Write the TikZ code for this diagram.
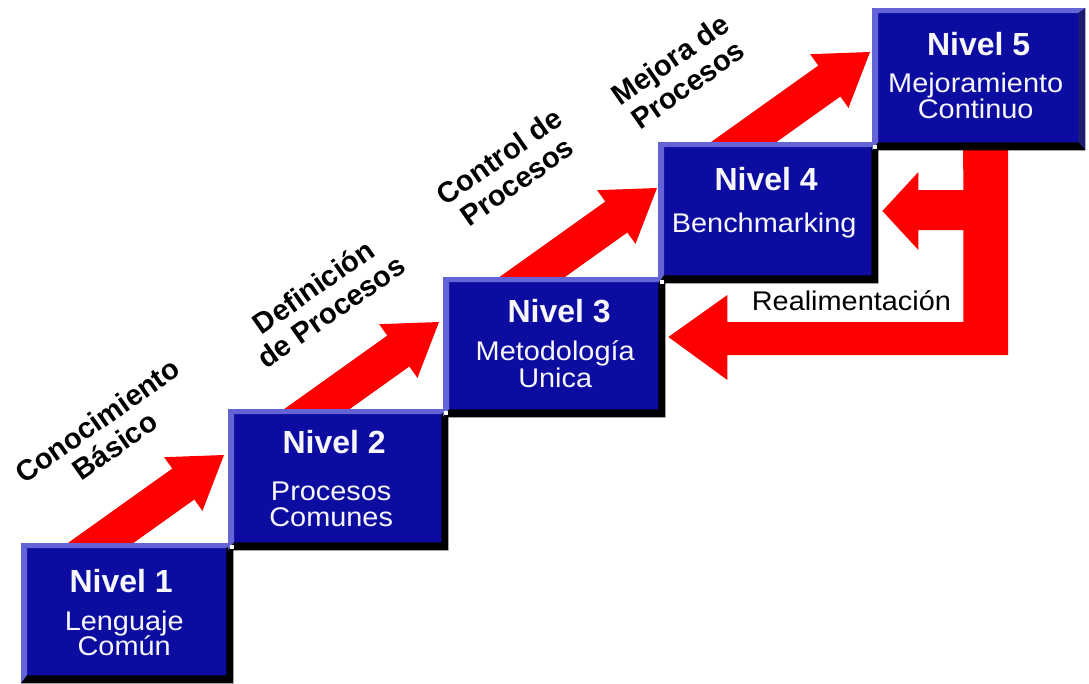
\documentclass[tikz,border=0pt]{standalone}
\usepackage{fontspec}
\setmainfont{Liberation Sans}
\newfontfamily\subfont[FakeStretch=1.07]{Liberation Sans}
\usetikzlibrary{calc}
\pgfdeclarelayer{background}
\pgfsetlayers{background,main}
\definecolor{boxblue}{RGB}{12,12,160}
\definecolor{bevellight}{RGB}{100,100,215}
\definecolor{beveldark}{RGB}{28,28,110}
\definecolor{arrowred}{RGB}{255,0,0}
\definecolor{txtwhite}{RGB}{246,246,252}
\tikzset{
  lvl/.style={draw=none, fill=boxblue, anchor=north west, inner sep=0pt},
  titletext/.style={anchor=base, text=txtwhite, inner sep=0pt,
    font=\fontsize{32}{32}\selectfont\bfseries},
  subtext/.style={anchor=base, text=txtwhite, inner sep=0pt,
    font=\subfont\fontsize{27}{27}\selectfont},
  steplabel/.style={rotate=35, align=center, inner sep=0pt,
    font=\fontsize{29}{30.5}\selectfont\bfseries},
  fbtext/.style={anchor=base, text=black, inner sep=0pt,
    font=\subfont\fontsize{27}{27}\selectfont},
  blockarrow/.style={fill=arrowred, draw=none},
  dotmark/.style={fill=white, draw=none}
}
\newcommand\bevels[2]{%
  \fill[bevellight] (#1.north west) -- (#1.north east) -- ($(#1.north east)+(-7,5)$) -- ($(#1.north west)+(6,5)$) -- cycle;
  \fill[bevellight] (#1.north west) -- ($(#1.north west)+(6,5)$) -- ($(#1.south west)+(6,-8)$) -- (#1.south west) -- cycle;
  \fill[#2] (#1.north east) -- (#1.south east) -- ($(#1.south east)+(-7,-8)$) -- ($(#1.north east)+(-7,5)$) -- cycle;
  \fill[black] (#1.south west) -- ($(#1.south west)+(6,-8)$) -- ($(#1.south east)+(-7,-8)$) -- (#1.south east) -- cycle;
}
\newcommand\diagarrow[1]{%
  \fill[blockarrow, shift={(#1)}, rotate=35.5] (0,0) -- (-50,-33) -- (-50,-19) -- (-190,-19) -- (-190,19) -- (-50,19) -- (-50,33) -- cycle;
}
\begin{document}
\begin{tikzpicture}[x=1pt,y=-1pt]
\useasboundingbox (0,0) rectangle (1089,683);

% boxes
\node[lvl, minimum width=212pt, minimum height=140pt] (n1) at (21,543) {};
\bevels{n1}{black}
\node[lvl, minimum width=220pt, minimum height=141pt] (n2) at (228,409) {};
\bevels{n2}{black}
\node[lvl, minimum width=222pt, minimum height=140pt] (n3) at (443,277) {};
\bevels{n3}{black}
\node[lvl, minimum width=220pt, minimum height=141pt] (n4) at (658,142) {};
\bevels{n4}{black}
\node[lvl, minimum width=213pt, minimum height=142pt] (n5) at (872,8) {};
\bevels{n5}{beveldark}

% corner dots
\fill[dotmark] ($(n2.south west)+(2,-5)$) rectangle ++(4,4);
\fill[dotmark] ($(n3.south west)+(1,-6)$) rectangle ++(4,4);
\fill[dotmark] ($(n4.south west)+(2,-3)$) rectangle ++(4,4);
\fill[dotmark] ($(n5.south west)+(1,-5)$) rectangle ++(4,4);

% texts in boxes
\node[titletext] (t1) at ($(n1.north)+(-6,49)$) {Nivel 1};
\node[subtext] (s1a) at ($(n1.north)+(-3,87)$) {Lenguaje};
\node[subtext] (s1b) at ($(n1.north)+(-3,112)$) {Común};

\node[titletext] (t2) at ($(n2.north)+(-4,44)$) {Nivel 2};
\node[subtext] (s2a) at ($(n2.north)+(-7,91)$) {Procesos};
\node[subtext] (s2b) at ($(n2.north)+(-7,117)$) {Comunes};

\node[titletext] (t3) at ($(n3.north)+(5,45)$) {Nivel 3};
\node[subtext] (s3a) at ($(n3.north)+(1,83)$) {Metodología};
\node[subtext] (s3b) at ($(n3.north)+(1,110)$) {Unica};

\node[titletext] (t4) at ($(n4.north)+(-2,48)$) {Nivel 4};
\node[subtext] (s4a) at ($(n4.north)+(-4,90)$) {Benchmarking};

\node[titletext] (t5) at ($(n5.north)+(0,47)$) {Nivel 5};
\node[subtext] (s5a) at ($(n5.north)+(-3,84)$) {Mejoramiento};
\node[subtext] (s5b) at ($(n5.north)+(-3,110)$) {Continuo};

% arrow tips
\coordinate (tip12) at ($(n2.north west)+(-4,46)$);
\coordinate (tip23) at ($(n3.north west)+(-4,45)$);
\coordinate (tip34) at ($(n4.north west)+(-1,46)$);
\coordinate (tip45) at ($(n5.north west)+(-2,44)$);
\coordinate (fbtop) at ($(n5.south west)+(91,-10)$);
\coordinate (fb3) at ($(n3.north east)+(3,60)$);
\coordinate (fb4) at ($(n4.north east)+(4,69)$);

\begin{pgfonlayer}{background}
  \diagarrow{tip12}
  \diagarrow{tip23}
  \diagarrow{tip34}
  \diagarrow{tip45}
  \fill[blockarrow] (fbtop) -- ++(45,0) |- ($(fb3)+(59,18)$) -- ++(0,25) -- (fb3)
    -- ($(fb3)+(59,-42)$) -- ++(0,27) -| ($(fb4)+(81,19)$) -- ($(fb4)+(36,19)$)
    -- ++(0,20) -- (fb4) -- ($(fb4)+(36,-39)$) -- ++(0,18) -- ($(fb4)+(81,-21)$) -- cycle;
\end{pgfonlayer}

% labels
\node[fbtext] (fbl) at ($(fb3)+(183,-27)$) {Realimentación};
\node[steplabel] (l1) at (106,433) {Conocimiento\\Básico};
\node[steplabel] (l2) at (322,299) {Definición\\de Procesos};
\node[steplabel] (l3) at (508,169) {Control de\\Procesos};
\node[steplabel] (l4) at (679,72) {Mejora de\\Procesos};
\end{tikzpicture}
\end{document}
